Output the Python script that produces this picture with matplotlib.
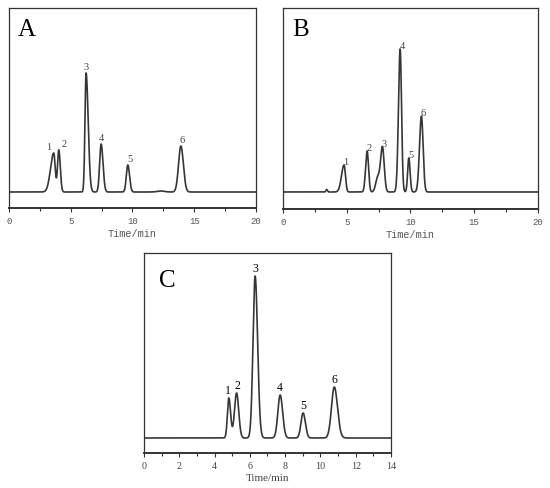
import numpy as np
import matplotlib.pyplot as plt
from matplotlib.ticker import MultipleLocator

# peak tables (retention time / min, height in a.u.)
a_rt = [3.62, 4.03, 6.24, 7.46, 9.62, 13.92]
a_height = [39, 42, 119, 48, 27, 46]
a_sig_left = [0.26, 0.10, 0.09, 0.12, 0.12, 0.19]
a_sig_right = [0.12, 0.12, 0.17, 0.15, 0.14, 0.20]
a_minor_rt = [12.3]
a_minor_height = [1.0]

b_rt = [4.79, 6.60, 7.80, 9.19, 9.87, 10.86]
b_height = [27, 41, 45, 143, 34, 76]
b_sig_left = [0.20, 0.12, 0.15, 0.13, 0.09, 0.15]
b_sig_right = [0.11, 0.11, 0.14, 0.11, 0.10, 0.13]
b_minor_rt = [3.43, 7.42]
b_minor_height = [2.5, 14]

c_rt = [4.81, 5.25, 6.30, 7.72, 9.02, 10.79]
c_height = [40, 45, 162, 43, 25, 51]
c_sig_left = [0.08, 0.12, 0.12, 0.13, 0.12, 0.16]
c_sig_right = [0.10, 0.12, 0.14, 0.14, 0.13, 0.18]

peak_labels = ["1", "2", "3", "4", "5", "6"]


def trace(t, rt, h, sl, sr):
    y = np.zeros_like(t)
    for r, hh, a, b in zip(rt, h, sl, sr):
        s = np.where(t < r, a, b)
        y += hh * np.exp(-0.5 * ((t - r) / s) ** 2)
    return y


def style_axes(ax, xmax, major, minor, ylo, yhi, font, tcol, fs):
    ax.set_xlim(0, xmax)
    ax.set_ylim(ylo, yhi)
    ax.set_yticks([])
    ax.xaxis.set_major_locator(MultipleLocator(major))
    ax.xaxis.set_minor_locator(MultipleLocator(minor))
    ax.tick_params(axis="x", which="major", direction="out", length=3,
                   width=0.8, colors="#333333", labelsize=fs, pad=3,
                   labelcolor=tcol)
    ax.tick_params(axis="x", which="minor", direction="out", length=2,
                   width=0.8, colors="#333333")
    for lab in ax.get_xticklabels():
        lab.set_family(font)
    for sp in ax.spines.values():
        sp.set_color("#333333")
        sp.set_linewidth(0.9)
    ax.spines["bottom"].set_linewidth(1.4)
    ax.set_xlabel("Time/min", family=font, fontsize=fs + 0.8, color=tcol,
                  labelpad=2)


fig = plt.figure(figsize=(5.5, 4.89), dpi=100)
ax_a = fig.add_axes([0.0164, 0.5726, 0.449, 0.409])
ax_b = fig.add_axes([0.5145, 0.5706, 0.4636, 0.411])
ax_c = fig.add_axes([0.2618, 0.0716, 0.449, 0.409])

# A
t = np.linspace(0, 20, 4000)
y = trace(t, a_rt, a_height, a_sig_left, a_sig_right)
y += trace(t, a_minor_rt, a_minor_height, [0.3], [0.3])
ax_a.plot(t, y, color="#363636", lw=1.2)
style_axes(ax_a, 20, 5, 2.5, -16, 184, "Liberation Mono", "#555555", 6.5)
a_dx = [-0.4, 0.45, 0, 0, 0.18, 0.12]
for r, h, lab, dx in zip(a_rt, a_height, peak_labels, a_dx):
    ax_a.text(r + dx, h + 2, lab, ha="center", va="bottom", fontsize=7.5,
              family="Liberation Serif", color="#444444")
ax_a.text(0.035, 0.95, "A", transform=ax_a.transAxes, ha="left", va="top",
          fontsize=18, family="Liberation Serif")

# B
y = trace(t, b_rt, b_height, b_sig_left, b_sig_right)
y += trace(t, b_minor_rt, b_minor_height, [0.06, 0.15], [0.06, 0.15])
ax_b.plot(t, y, color="#363636", lw=1.2)
style_axes(ax_b, 20, 5, 2.5, -17, 184, "Liberation Mono", "#555555", 6.5)
for r, h, lab in zip(b_rt, b_height, peak_labels):
    ax_b.text(r + 0.14, h - 1, lab, ha="center", va="bottom", fontsize=7.5,
              family="Liberation Serif", color="#444444")
ax_b.text(0.035, 0.95, "B", transform=ax_b.transAxes, ha="left", va="top",
          fontsize=18, family="Liberation Serif")

# C
t = np.linspace(0, 14, 4000)
y = trace(t, c_rt, c_height, c_sig_left, c_sig_right)
ax_c.plot(t, y, color="#363636", lw=1.2)
style_axes(ax_c, 14, 2, 1, -15, 185, "Liberation Serif", "#444444", 7.2)
c_dx = [-0.07, 0.03, 0, 0, 0, 0]
for r, h, lab, dx in zip(c_rt, c_height, peak_labels, c_dx):
    ax_c.text(r + dx, h + 2, lab, ha="center", va="bottom", fontsize=8.5,
              family="Liberation Serif", color="black")
ax_c.text(0.06, 0.92, "C", transform=ax_c.transAxes, ha="left", va="top",
          fontsize=18, family="Liberation Serif")

fig.savefig("out.png", dpi=100)
